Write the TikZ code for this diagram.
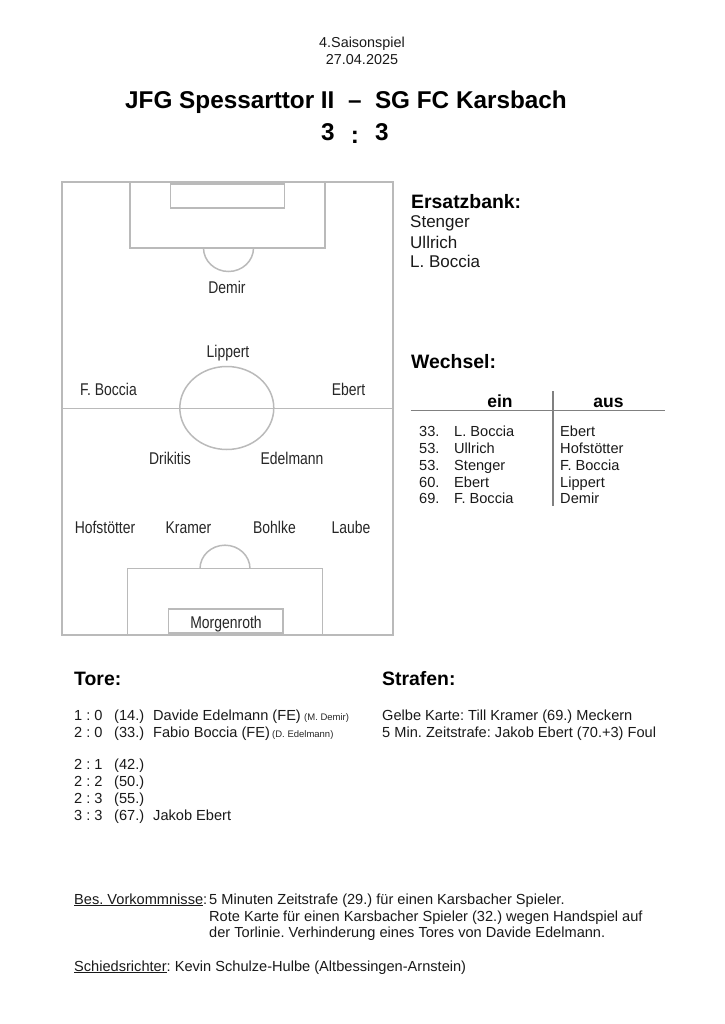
\documentclass[tikz,border=0pt]{standalone}
\usepackage{fontspec}
\setmainfont{Liberation Sans}
\frenchspacing
\tikzset{
 pitch/.style={draw=black!27,line width=1.5pt},
 tl/.style={anchor=base west,inner sep=0pt,text=black!90,font=\fontsize{14.6}{14.6}\selectfont},
 tc/.style={anchor=base,inner sep=0pt,text=black!90,font=\fontsize{14.4}{14.4}\selectfont},
 head/.style={anchor=base west,inner sep=0pt,font=\fontsize{19.4}{19.4}\selectfont\bfseries},
 title/.style={anchor=base,inner sep=0pt,font=\fontsize{24.3}{24.3}\selectfont\bfseries},
 pl/.style={anchor=base,inner sep=0pt,text=black!85,font=\fontsize{17}{17}\selectfont},
 small/.style={anchor=base west,inner sep=0pt,text=black!85,font=\fontsize{9.5}{9.5}\selectfont},
 colhead/.style={anchor=base,inner sep=0pt,font=\fontsize{17.5}{17.5}\selectfont\bfseries},
 rule/.style={draw=black!50,line width=1.2pt}
}
\newcommand{\nar}[1]{\scalebox{0.82}[1]{#1}}
\begin{document}
\begin{tikzpicture}[x=1pt,y=-1pt]
\useasboundingbox (0,0) rectangle (724,1024);
% header
\node[tc] (h1) at (362,48) {4.Saisonspiel};
\node[tc] (h2) at (362,65) {27.04.2025};
\node[title] (t1) at (346,109) {JFG Spessarttor II\ \ –\ \ SG FC Karsbach};
\node[title] (s1) at (328,141) {3};
\node[title] (s2) at (355,144) {:};
\node[title] (s3) at (382,141) {3};
% pitch
\draw[pitch] (62,182) rectangle (393,635);
\draw[pitch] (62,408.5) -- (393,408.5);
\draw[pitch] (130,182) rectangle (325,248);
\draw[pitch] (170.7,184) rectangle (284.7,208);
\draw[pitch] (203.5,248) arc[start angle=180,end angle=360,x radius=25,y radius=-23.5];
\draw[pitch] (226.8,408) ellipse[x radius=47,y radius=41.5];
\draw[pitch] (127.7,568.7) rectangle (322.7,635);
\draw[pitch] (168.5,609) rectangle (283,633);
\draw[pitch] (200,568.7) arc[start angle=180,end angle=360,x radius=25,y radius=23.5];
% players
\node[pl] (p1) at (227,293) {\nar{Demir}};
\node[pl] (p2) at (228,357) {\nar{Lippert}};
\node[pl] (p3) at (108.5,395) {\nar{F. Boccia}};
\node[pl] (p4) at (348.5,395) {\nar{Ebert}};
\node[pl] (p5) at (170,464) {\nar{Drikitis}};
\node[pl] (p6) at (292,464) {\nar{Edelmann}};
\node[pl] (p7) at (105,533) {\nar{Hofstötter}};
\node[pl] (p8) at (188.5,533) {\nar{Kramer}};
\node[pl] (p9) at (274.5,533) {\nar{Bohlke}};
\node[pl] (p10) at (351,533) {\nar{Laube}};
\node[pl] (p11) at (226,628) {\nar{Morgenroth}};
% bench
\node[head] (eb) at (411,208.5) {Ersatzbank:};
\node[tl,font=\fontsize{17}{17}\selectfont] (b1) at (410,228) {Stenger};
\node[tl,font=\fontsize{17}{17}\selectfont] (b2) at (410,248) {Ullrich};
\node[tl,font=\fontsize{17}{17}\selectfont] (b3) at (410,267) {L. Boccia};
% subs
\node[head] (we) at (411,368) {Wechsel:};
\node[colhead] (ein) at (500,407) {ein};
\node[colhead] (aus) at (608.5,407) {aus};
\draw[rule] (410.5,410.7) -- (664.5,410.7);
\draw[rule] (553,391) -- (553,506);
\foreach \y/\m/\a/\b [count=\i] in {436/33./L. Boccia/Ebert,453/53./Ullrich/Hofstötter,470/53./Stenger/F. Boccia,487/60./Ebert/Lippert,503/69./F. Boccia/Demir}{
 \node[tl] (sm\i) at (419,\y) {\m};
 \node[tl] (si\i) at (454,\y) {\a};
 \node[tl] (so\i) at (560,\y) {\b};
}
% goals
\node[head] (to) at (74,685.5) {Tore:};
\node[tl] (g1) at (74,720) {1 : 0};
\node[tl] (g1m) at (114,720) {(14.)};
\node[tl] (g1n) at (153,720) {Davide Edelmann (FE)};
\node[small] (g1a) at (304,720) {(M. Demir)};
\node[tl] (g2) at (74,737) {2 : 0};
\node[tl] (g2m) at (114,737) {(33.)};
\node[tl] (g2n) at (153,737) {Fabio Boccia (FE)};
\node[small] (g2a) at (272,737) {(D. Edelmann)};
\node[tl] (g3) at (74,769) {2 : 1};
\node[tl] (g3m) at (114,769) {(42.)};
\node[tl] (g4) at (74,786) {2 : 2};
\node[tl] (g4m) at (114,786) {(50.)};
\node[tl] (g5) at (74,803) {2 : 3};
\node[tl] (g5m) at (114,803) {(55.)};
\node[tl] (g6) at (74,820) {3 : 3};
\node[tl] (g6m) at (114,820) {(67.)};
\node[tl] (g6n) at (153,820) {Jakob Ebert};
% penalties
\node[head] (st) at (382,685.5) {Strafen:};
\node[tl] (c1) at (382,720) {Gelbe Karte: Till Kramer (69.) Meckern};
\node[tl] (c2) at (382,737) {5 Min. Zeitstrafe: Jakob Ebert (70.+3) Foul};
% notes
\node[tl] (n0) at (74,904) {\underline{Bes. Vorkommnisse}:};
\node[tl] (n1) at (209,904) {5 Minuten Zeitstrafe (29.) für einen Karsbacher Spieler.};
\node[tl] (n2) at (209,921) {Rote Karte für einen Karsbacher Spieler (32.) wegen Handspiel auf};
\node[tl] (n3) at (209,937) {der Torlinie. Verhinderung eines Tores von Davide Edelmann.};
\node[tl] (n4) at (74,971) {\underline{Schiedsrichter}: Kevin Schulze-Hulbe (Altbessingen-Arnstein)};
\end{tikzpicture}
\end{document}
